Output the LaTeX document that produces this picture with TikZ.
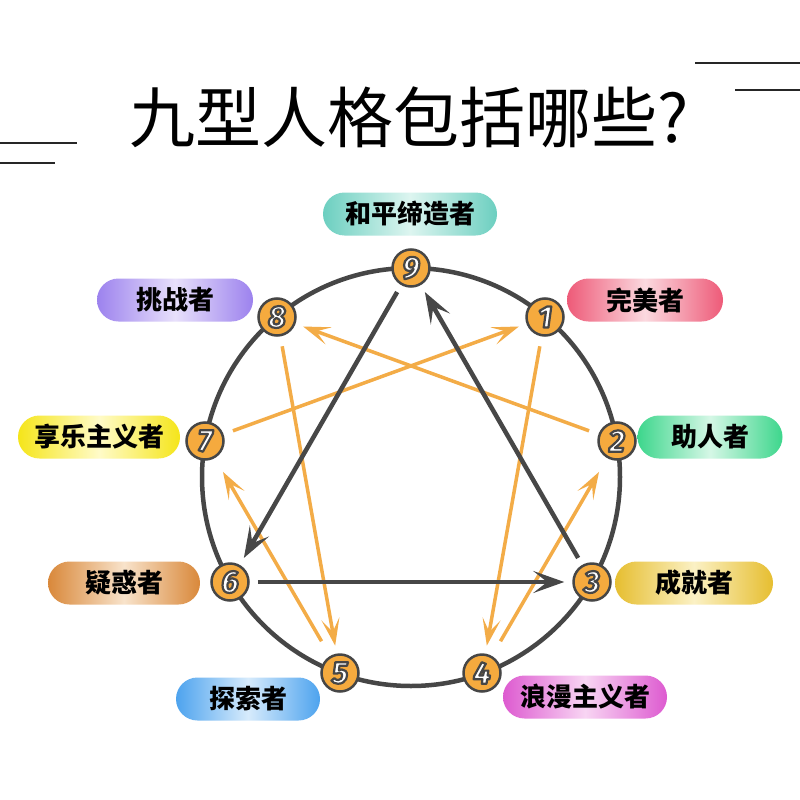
\documentclass[tikz,border=0pt]{standalone}
\usepackage{fontspec}
\usetikzlibrary{arrows.meta}
\newfontfamily\cjk{Noto Sans CJK SC}
\newfontfamily\numfont{Fira Sans}
\newcommand\outlinedigit[1]{\special{pdf:literal direct 2 Tr 2.2 w 1 j 0.275 0.275 0.275 RG}#1\special{pdf:literal direct 0 Tr}}
\definecolor{ringgray}{HTML}{464646}
\definecolor{numorange}{HTML}{F5AA3E}
\definecolor{arroworange}{HTML}{F3AC47}
\definecolor{arrowgray}{HTML}{474747}
\definecolor{tealE}{HTML}{6CCFC0}\definecolor{tealC}{HTML}{DDF5F0}
\definecolor{purpE}{HTML}{9C82EE}\definecolor{purpC}{HTML}{E8E0FB}
\definecolor{pinkE}{HTML}{EE5A78}\definecolor{pinkC}{HTML}{FBD9DF}
\definecolor{yelE}{HTML}{F5E51A}\definecolor{yelC}{HTML}{FFFBC8}
\definecolor{grnE}{HTML}{3DD68C}\definecolor{grnC}{HTML}{D5F7E6}
\definecolor{brnE}{HTML}{D9883A}\definecolor{brnC}{HTML}{F8E3CB}
\definecolor{goldE}{HTML}{E6BE30}\definecolor{goldC}{HTML}{FBF1C5}
\definecolor{bluE}{HTML}{4DA3EE}\definecolor{bluC}{HTML}{D7EBFC}
\definecolor{magE}{HTML}{DD5AD0}\definecolor{magC}{HTML}{F8D5F3}
\tikzset{
  pill/.style={rounded corners=21.5pt, minimum height=43pt, inner sep=0pt,
    font=\cjk\bfseries\fontsize{26}{26}\selectfont, text=black},
  pillc/.style 2 args={left color=#1, right color=#1, middle color=#2},
  numnode/.style={circle, draw=ringgray, line width=2.5pt, fill=numorange,
    minimum size=37pt, inner sep=0pt, text=white,
    font=\numfont\bfseries\itshape\fontsize{31}{31}\selectfont},
  orangearrow/.style={draw=arroworange, line width=3.5pt,
    -{Stealth[length=27pt,width=18pt,inset=13pt]}, shorten <=10pt, shorten >=8pt},
  darkarrow/.style={draw=arrowgray, line width=4.5pt,
    -{Stealth[length=31pt,width=22pt,inset=14pt]}, shorten <=8pt, shorten >=8pt},
  decoline/.style={draw=black!85, line width=1.8pt}
}
\begin{document}
\begin{tikzpicture}[x=1pt,y=-1pt]
\useasboundingbox[fill=white] (0,0) rectangle (800,800);
% decorative lines
\draw[decoline] (695,63) -- (800,63);
\draw[decoline] (735,90) -- (800,90);
\draw[decoline] (0,143) -- (77,143);
\draw[decoline] (0,163) -- (55,163);
% title
\node[font=\cjk\fontsize{66}{66}\selectfont] (title) at (409,117) {九型人格包括哪些?};
% outer circle
\draw[ringgray, line width=4.5pt] (411,477) circle [radius=209];
% number nodes
\node[numnode] (n9) at (411,268) {\outlinedigit{9}};
\node[numnode] (n1) at (545,317) {\outlinedigit{1}};
\node[numnode] (n2) at (617,441) {\outlinedigit{2}};
\node[numnode] (n3) at (592,582) {\outlinedigit{3}};
\node[numnode] (n4) at (482,673) {\outlinedigit{4}};
\node[numnode] (n5) at (340,673) {\outlinedigit{5}};
\node[numnode] (n6) at (230,582) {\outlinedigit{6}};
\node[numnode] (n7) at (205,441) {\outlinedigit{7}};
\node[numnode] (n8) at (277,317) {\outlinedigit{8}};
% arrows
\draw[orangearrow] (n7) -- (n1);
\draw[orangearrow] (n2) -- (n8);
\draw[orangearrow] (n8) -- (n5);
\draw[orangearrow] (n1) -- (n4);
\draw[orangearrow, shorten <=17pt, shorten >=16pt] (n5) -- (n7);
\draw[orangearrow, shorten <=17pt, shorten >=16pt] (n4) -- (n2);
\draw[darkarrow] (n9) -- (n6);
\draw[darkarrow] (n6) -- (n3);
\draw[darkarrow] (n3) -- (n9);
% labels
\node[pill, pillc={tealE}{tealC}, minimum width=174pt] (p9) at (410,214) {和平缔造者};
\node[pill, pillc={purpE}{purpC}, minimum width=156pt] (p8) at (175,300) {挑战者};
\node[pill, pillc={pinkE}{pinkC}, minimum width=156pt] (p1) at (645,300) {完美者};
\node[pill, pillc={yelE}{yelC}, minimum width=162pt] (p7) at (99,437) {享乐主义者};
\node[pill, pillc={grnE}{grnC}, minimum width=145pt] (p2) at (710,437) {助人者};
\node[pill, pillc={brnE}{brnC}, minimum width=152pt] (p6) at (124,583) {疑惑者};
\node[pill, pillc={goldE}{goldC}, minimum width=158pt] (p3) at (694,583) {成就者};
\node[pill, pillc={bluE}{bluC}, minimum width=144pt] (p5) at (248,699) {探索者};
\node[pill, pillc={magE}{magC}, minimum width=164pt] (p4) at (585,697) {浪漫主义者};
\end{tikzpicture}
\end{document}
